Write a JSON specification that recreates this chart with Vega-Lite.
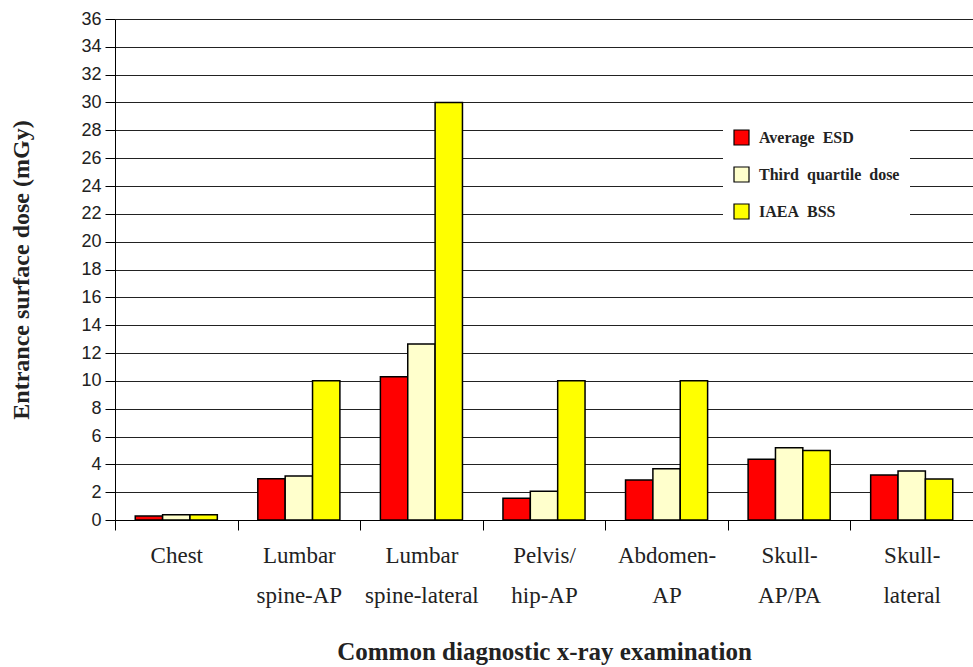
{
  "$schema": "https://vega.github.io/schema/vega-lite/v6.json",
  "width": 858,
  "height": 501,
  "autosize": {"type": "none"},
  "padding": {"left": 115, "top": 19, "right": 0, "bottom": 147},
  "background": "white",
  "data": {
    "values": [
      {"exam": "Chest", "series": "Average ESD", "dose": 0.28},
      {"exam": "Chest", "series": "Third quartile dose", "dose": 0.37},
      {"exam": "Chest", "series": "IAEA BSS", "dose": 0.37},
      {"exam": "Lumbar spine-AP", "series": "Average ESD", "dose": 2.97},
      {"exam": "Lumbar spine-AP", "series": "Third quartile dose", "dose": 3.16},
      {"exam": "Lumbar spine-AP", "series": "IAEA BSS", "dose": 10},
      {"exam": "Lumbar spine-lateral", "series": "Average ESD", "dose": 10.3},
      {"exam": "Lumbar spine-lateral", "series": "Third quartile dose", "dose": 12.64},
      {"exam": "Lumbar spine-lateral", "series": "IAEA BSS", "dose": 30},
      {"exam": "Pelvis/hip-AP", "series": "Average ESD", "dose": 1.56},
      {"exam": "Pelvis/hip-AP", "series": "Third quartile dose", "dose": 2.06},
      {"exam": "Pelvis/hip-AP", "series": "IAEA BSS", "dose": 10},
      {"exam": "Abdomen-AP", "series": "Average ESD", "dose": 2.87},
      {"exam": "Abdomen-AP", "series": "Third quartile dose", "dose": 3.69},
      {"exam": "Abdomen-AP", "series": "IAEA BSS", "dose": 10},
      {"exam": "Skull-AP/PA", "series": "Average ESD", "dose": 4.36},
      {"exam": "Skull-AP/PA", "series": "Third quartile dose", "dose": 5.2},
      {"exam": "Skull-AP/PA", "series": "IAEA BSS", "dose": 5.0},
      {"exam": "Skull-lateral", "series": "Average ESD", "dose": 3.23},
      {"exam": "Skull-lateral", "series": "Third quartile dose", "dose": 3.52},
      {"exam": "Skull-lateral", "series": "IAEA BSS", "dose": 2.94}
    ]
  },
  "mark": {"type": "bar", "stroke": "black", "strokeWidth": 1.5},
  "encoding": {
    "x": {
      "field": "exam",
      "type": "nominal",
      "sort": ["Chest", "Lumbar spine-AP", "Lumbar spine-lateral", "Pelvis/hip-AP", "Abdomen-AP", "Skull-AP/PA", "Skull-lateral"],
      "scale": {"paddingInner": 0, "paddingOuter": 0},
      "axis": {
        "title": "Common diagnostic x-ray examination",
        "tickBand": "extent",
        "labelAngle": 0,
        "tickSize": 10,
        "tickColor": "black",
        "domainColor": "black",
        "labelFont": "Liberation Serif",
        "labelFontSize": 23,
        "labelColor": "#222",
        "labelLineHeight": 40,
        "labelPadding": 14,
        "labelExpr": "split(replace(datum.label, regexp('^(Lumbar |Pelvis/|Abdomen-|Skull-)'), '$1|'), '|')",
        "titleFont": "Liberation Serif",
        "titleFontWeight": "bold",
        "titleFontSize": 25,
        "titleColor": "#222",
        "titlePadding": 32,
        "grid": false
      }
    },
    "xOffset": {
      "field": "series",
      "type": "nominal",
      "sort": ["Average ESD", "Third quartile dose", "IAEA BSS"],
      "scale": {"paddingInner": 0, "paddingOuter": 0.74}
    },
    "y": {
      "field": "dose",
      "type": "quantitative",
      "scale": {"domain": [0, 36], "nice": false},
      "axis": {
        "title": "Entrance surface dose (mGy)",
        "values": [0, 2, 4, 6, 8, 10, 12, 14, 16, 18, 20, 22, 24, 26, 28, 30, 32, 34, 36],
        "grid": true,
        "gridColor": "#222",
        "gridOpacity": 1,
        "gridWidth": 1,
        "domainColor": "black",
        "tickColor": "black",
        "tickSize": 10,
        "labelFont": "Liberation Sans",
        "labelFontSize": 18,
        "labelColor": "#222",
        "labelPadding": 4,
        "titleFont": "Liberation Serif",
        "titleFontWeight": "bold",
        "titleFontSize": 24,
        "titleColor": "#222",
        "titlePadding": 47
      }
    },
    "color": {
      "field": "series",
      "type": "nominal",
      "sort": ["Average ESD", "Third quartile dose", "IAEA BSS"],
      "scale": {
        "domain": ["Average ESD", "Third quartile dose", "IAEA BSS"],
        "range": ["#FF0000", "#FFFFCC", "#FFFF00"]
      },
      "legend": {
        "orient": "none",
        "legendX": 608,
        "legendY": 100,
        "title": null,
        "fillColor": "white",
        "padding": 10,
        "rowPadding": 16,
        "symbolType": "square",
        "symbolSize": 225,
        "symbolStrokeColor": "black",
        "symbolStrokeWidth": 1.2,
        "symbolOpacity": 1,
        "labelFont": "Liberation Serif",
        "labelFontWeight": "bold",
        "labelFontSize": 16,
        "labelColor": "#222",
        "labelOffset": 9,
        "labelExpr": "replace(datum.label, regexp(' ', 'g'), '\u2002')"
      }
    }
  },
  "config": {"view": {"stroke": null}}
}
